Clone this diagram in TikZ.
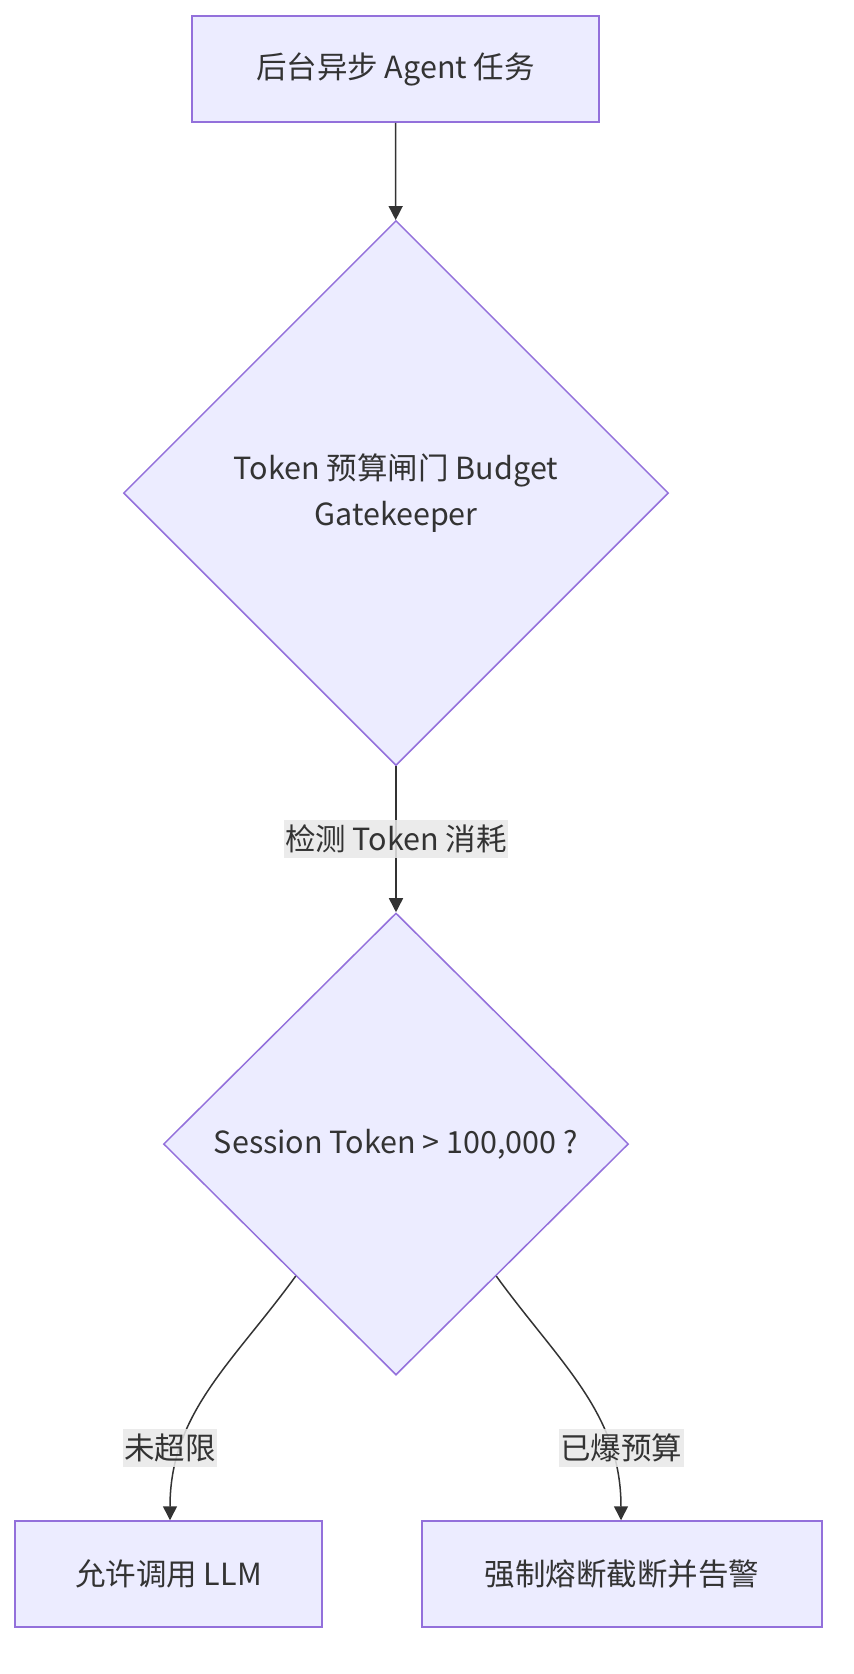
\documentclass[tikz,border=0pt]{standalone}
\usepackage{fontspec}
\setmainfont{Noto Sans CJK SC}
\usetikzlibrary{shapes.geometric,arrows.meta,calc}
\definecolor{nodefill}{HTML}{ECECFF}
\definecolor{nodeline}{HTML}{9370DB}
\definecolor{edgeline}{HTML}{333333}
\definecolor{labelgray}{HTML}{E8E8E8}

\begin{document}
\begin{tikzpicture}[x=1pt,y=1pt,
  box/.style={draw=nodeline,fill=nodefill,line width=1.5pt,minimum height=106pt,text=edgeline,font=\fontsize{30.5}{46}\selectfont},
  choice/.style={diamond,draw=nodeline,fill=nodefill,line width=1.5pt,inner sep=0pt,text=edgeline,align=center,font=\fontsize{30.5}{46}\selectfont},
  edgelabel/.style={fill=labelgray,fill opacity=0.85,text opacity=1,text=edgeline,inner xsep=1.5pt,inner ysep=5pt,font=\fontsize{30.5}{34}\selectfont},
  flow/.style={draw=edgeline,line width=1.5pt,-{Triangle[length=14pt,width=14pt]}}]
\useasboundingbox (0,0) rectangle (854,-1674);
\node[box,minimum width=407pt] (task) at (395.5,-69) {后台异步 Agent 任务};
\node[choice,minimum width=545pt,minimum height=545pt] (gate) at (396,-493) {Token 预算闸门 Budget\\Gatekeeper};
\node[choice,minimum width=465pt,minimum height=462pt] (check) at (396,-1144) {Session Token > 100,000 ?};
\node[box,minimum width=307pt] (allow) at (168.5,-1574) {允许调用 LLM};
\node[box,minimum width=400pt] (cut) at (622,-1574) {强制熔断截断并告警};
\coordinate (leftout) at ($(check.west)!0.57!(check.south)$);
\coordinate (rightout) at ($(check.east)!0.57!(check.south)$);
\draw[flow] (task) -- (gate);
\draw[flow] (gate) -- (check) node[edgelabel,midway] (measure) {检测 Token 消耗};
\draw[flow] (leftout) to[out=234,in=90] (allow.north -| 170,0);
\draw[flow] (rightout) to[out=-54,in=90] (cut.north -| 621,0);
\node[edgelabel] (underlimit) at (170,-1448) {未超限};
\node[edgelabel] (overbudget) at (621,-1448) {已爆预算};
\end{tikzpicture}
\end{document}
